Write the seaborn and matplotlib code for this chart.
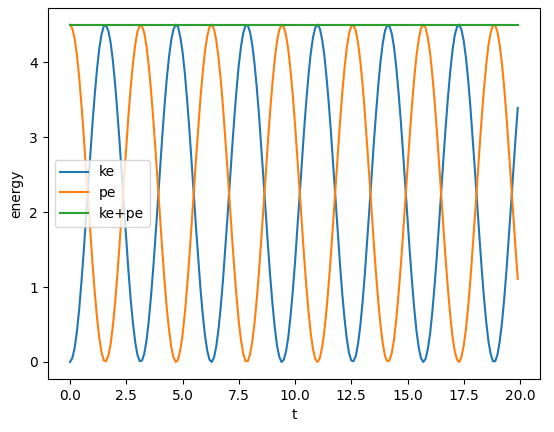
import matplotlib

matplotlib.use("Agg", force=True)
import matplotlib.pyplot as plt
import numpy as np
import pandas as pd
import seaborn as sns

# time grid, step 0.1
t = np.round(np.arange(200) * 0.1, 1)

# kinetic energy
ke = [
    0.00, 0.05, 0.18, 0.39, 0.68, 1.04, 1.44, 1.87, 2.32, 2.76,
    3.19, 3.57, 3.91, 4.18, 4.37, 4.48, 4.49, 4.42, 4.27, 4.03,
    3.72, 3.35, 2.94, 2.50, 2.05, 1.61, 1.20, 0.82, 0.51, 0.26,
    0.09, 0.01, 0.02, 0.11, 0.29, 0.55, 0.88, 1.26, 1.68, 2.13,
    2.58, 3.01, 3.42, 3.78, 4.07, 4.30, 4.44, 4.50, 4.47, 4.34,
    4.14, 3.86, 3.51, 3.12, 2.69, 2.24, 1.79, 1.37, 0.97, 0.63,
    0.35, 0.15, 0.03, 0.00, 0.06, 0.21, 0.44, 0.74, 1.10, 1.51,
    1.94, 2.39, 2.83, 3.25, 3.63, 3.96, 4.21, 4.39, 4.49, 4.49,
    4.40, 4.23, 3.98, 3.66, 3.29, 2.87, 2.43, 1.98, 1.54, 1.13,
    0.77, 0.46, 0.22, 0.07, 0.00, 0.03, 0.14, 0.33, 0.61, 0.94,
    1.33, 1.76, 2.20, 2.65, 3.08, 3.48, 3.83, 4.12, 4.33, 4.46,
    4.50, 4.45, 4.31, 4.10, 3.80, 3.45, 3.05, 2.61, 2.16, 1.72,
    1.30, 0.91, 0.58, 0.31, 0.12, 0.02, 0.01, 0.08, 0.24, 0.48,
    0.79, 1.16, 1.58, 2.02, 2.47, 2.91, 3.32, 3.69, 4.01, 4.25,
    4.42, 4.49, 4.48, 4.38, 4.20, 3.93, 3.60, 3.22, 2.80, 2.35,
    1.90, 1.47, 1.07, 0.71, 0.41, 0.19, 0.05, 0.00, 0.04, 0.17,
    0.37, 0.66, 1.01, 1.40, 1.83, 2.28, 2.73, 3.15, 3.54, 3.88,
    4.16, 4.36, 4.47, 4.50, 4.43, 4.28, 4.05, 3.75, 3.38, 2.97,
    2.54, 2.09, 1.65, 1.23, 0.85, 0.53, 0.27, 0.10, 0.01, 0.01,
    0.10, 0.28, 0.53, 0.85, 1.23, 1.65, 2.09, 2.54, 2.98, 3.39,
]
total = 4.5  # ke+pe, constant
pe = [round(total - v, 2) for v in ke]

df = pd.concat([
    pd.DataFrame({"t": t, "energy": ke, "series": "ke"}),
    pd.DataFrame({"t": t, "energy": pe, "series": "pe"}),
    pd.DataFrame({"t": t, "energy": [total] * len(t), "series": "ke+pe"}),
])

fig, ax = plt.subplots(figsize=(5.54, 4.32), dpi=100)
sns.lineplot(data=df, x="t", y="energy", hue="series",
             palette=["#1f77b4", "#ff7f0e", "#2ca02c"], ax=ax)
ax.legend(loc="center left", title=None)
ax.set_xlabel("t")
ax.set_ylabel("energy")
fig.subplots_adjust(left=0.086, right=0.975, bottom=0.123, top=0.982)
fig.savefig("out.png")
